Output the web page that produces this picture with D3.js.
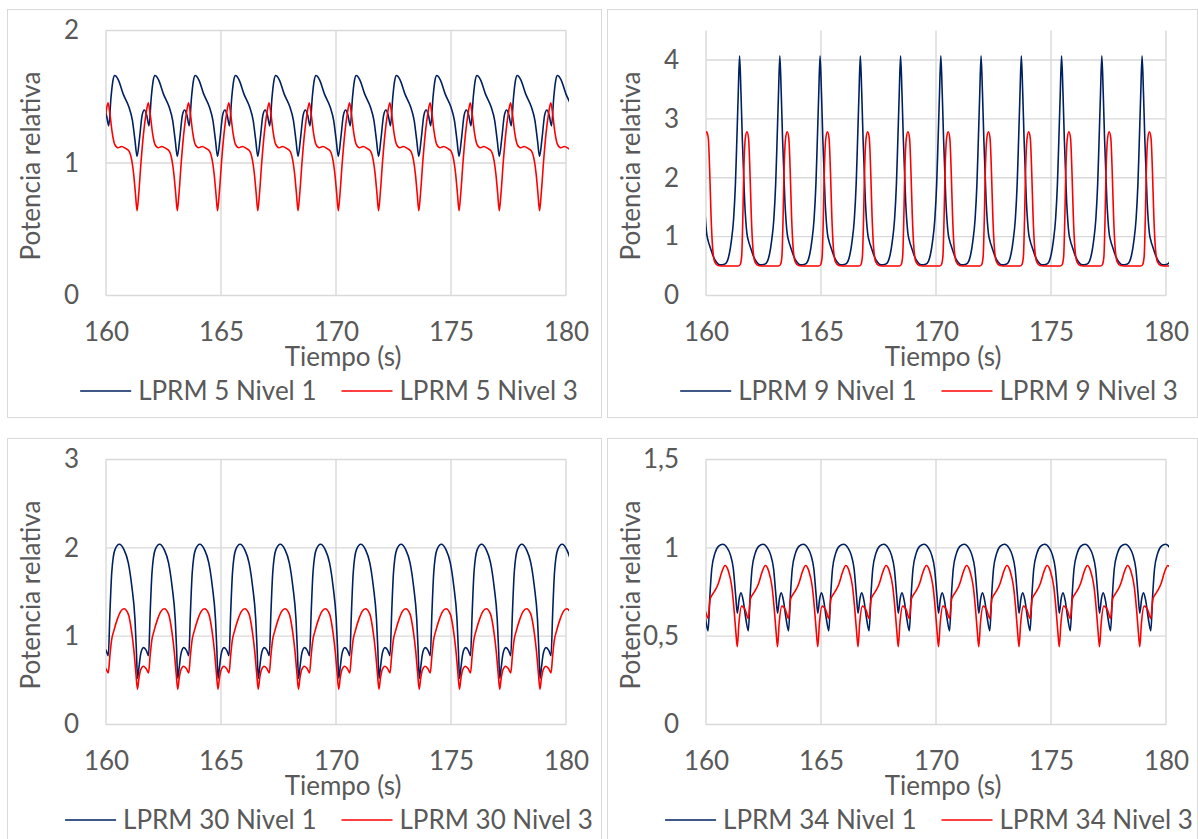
<!DOCTYPE html>
<html>
<head>
<meta charset="utf-8">
<script src="https://cdn.jsdelivr.net/npm/d3@7"></script>
<style>
    body { margin: 0; background: #ffffff; }
    text { font-family: Lato, "Open Sans", sans-serif; fill: #595959; }
</style>
</head>
<body>
<script>
// instantes de cada minimo de LPRM 5 Nivel 1 (inicio de cada ciclo, s)
var ciclos = [157.85, 159.6, 161.35, 163.1, 164.85, 166.6, 168.35, 170.1, 171.85, 173.6, 175.35, 177.1, 178.85, 180.6];

var ticksX = [160, 165, 170, 175, 180];

// forma de un ciclo: [desfase desde el inicio del ciclo (s), potencia relativa]
var lprm5N1 = [[0.00, 1.05], [0.11, 1.19], [0.22, 1.36], [0.32, 1.40], [0.42, 1.36], [0.52, 1.28], [0.62, 1.50],
    [0.70, 1.62], [0.78, 1.66], [0.93, 1.63], [1.15, 1.52], [1.40, 1.42], [1.55, 1.32], [1.66, 1.17]];
var lprm5N3 = [[0.00, 0.64], [0.07, 0.76], [0.17, 1.00], [0.28, 1.22], [0.39, 1.37], [0.49, 1.455], [0.57, 1.37],
    [0.67, 1.23], [0.78, 1.14], [0.92, 1.115], [1.08, 1.125], [1.25, 1.11], [1.40, 1.09], [1.52, 1.02], [1.60, 0.92], [1.68, 0.77]];

var lprm9N1 = [[0.05, 3.40], [0.11, 4.07], [0.17, 3.45], [0.23, 2.65], [0.33, 1.60], [0.43, 1.05], [0.50, 0.92],
    [0.58, 0.82], [0.70, 0.68], [0.85, 0.57], [1.01, 0.52], [1.20, 0.53], [1.32, 0.58], [1.41, 0.70], [1.50, 0.92],
    [1.60, 1.30], [1.68, 1.90], [1.73, 2.50]];
var lprm9N3 = [[0.05, 0.50], [0.13, 0.52], [0.20, 0.66], [0.25, 1.30], [0.29, 2.05], [0.36, 2.67], [0.43, 2.78],
    [0.50, 2.67], [0.56, 2.12], [0.62, 1.35], [0.69, 0.80], [0.78, 0.57], [0.92, 0.51], [1.20, 0.50], [1.50, 0.50]];

var lprm30N1 = [[0.02, 0.52], [0.08, 0.64], [0.16, 0.80], [0.28, 0.87], [0.40, 0.84], [0.50, 0.78], [0.57, 1.26],
    [0.65, 1.72], [0.79, 1.98], [0.98, 2.04], [1.18, 1.98], [1.37, 1.83], [1.52, 1.57], [1.66, 1.19], [1.72, 0.85]];
var lprm30N3 = [[0.02, 0.40], [0.08, 0.52], [0.16, 0.62], [0.28, 0.66], [0.40, 0.63], [0.50, 0.585], [0.57, 0.78],
    [0.64, 0.95], [0.74, 1.06], [0.89, 1.19], [1.04, 1.28], [1.18, 1.31], [1.37, 1.25], [1.52, 1.04], [1.62, 0.82], [1.70, 0.58]];

var lprm34N1 = [[0.01, 0.63], [0.09, 0.71], [0.17, 0.745], [0.27, 0.70], [0.38, 0.60], [0.49, 0.53], [0.57, 0.73],
    [0.65, 0.88], [0.79, 0.97], [0.95, 1.01], [1.13, 1.02], [1.32, 1.00], [1.46, 0.96], [1.59, 0.88], [1.69, 0.73]];
var lprm34N3 = [[0.01, 0.44], [0.08, 0.57], [0.20, 0.67], [0.35, 0.65], [0.49, 0.60], [0.58, 0.71], [0.70, 0.74],
    [0.80, 0.76], [0.94, 0.80], [1.08, 0.86], [1.23, 0.90], [1.37, 0.87], [1.52, 0.78], [1.62, 0.65], [1.70, 0.52]];

var nombres = [
    ["LPRM 5 Nivel 1", "LPRM 5 Nivel 3"],
    ["LPRM 9 Nivel 1", "LPRM 9 Nivel 3"],
    ["LPRM 30 Nivel 1", "LPRM 30 Nivel 3"],
    ["LPRM 34 Nivel 1", "LPRM 34 Nivel 3"]
];
var formas = [[lprm5N1, lprm5N3], [lprm9N1, lprm9N3], [lprm30N1, lprm30N3], [lprm34N1, lprm34N3]];
var maximosY = [2, 4.5, 3, 1.5];
var ticksY = [[0, 1, 2], [0, 1, 2, 3, 4], [0, 1, 2, 3], [0, 0.5, 1, 1.5]];

// layout
var width = 1198, height = 839;
var origenes = [[7.5, 9.5], [607.5, 9.5], [7.5, 438.5], [607.5, 438.5]];
var anchosPanel = [594, 590, 594, 590];
var colores = ["#002060", "#ff0000"];
var fontSize = 26;

function fmt(v) { return String(v).replace(".", ","); }

function serie(forma) {
    var pts = [];
    ciclos.forEach(function (c) {
        forma.forEach(function (p) { pts.push([c + p[0], p[1]]); });
    });
    return pts;
}

var svg = d3.select("body").append("svg")
    .attr("width", width)
    .attr("height", height);

formas.forEach(function (par, i) {
    var ox = origenes[i][0], oy = origenes[i][1];
    var left = ox + 98.5, top = oy + 21, w = 460, h = 265;

    var g = svg.append("g");

    g.append("rect")
        .attr("x", ox).attr("y", oy)
        .attr("width", anchosPanel[i]).attr("height", 408)
        .attr("fill", "#fff")
        .attr("stroke", "#d9d9d9")
        .attr("stroke-width", 1);

    var x = d3.scaleLinear().domain([160, 180]).range([left, left + w]);
    var y = d3.scaleLinear().domain([0, maximosY[i]]).range([top + h, top]);

    // gridlines
    g.append("g").selectAll("line").data(ticksY[i]).enter().append("line")
        .attr("x1", left).attr("x2", left + w)
        .attr("y1", function (d) { return y(d); })
        .attr("y2", function (d) { return y(d); })
        .attr("stroke", "#d9d9d9").attr("stroke-width", 1.4);
    g.append("g").selectAll("line").data(ticksX).enter().append("line")
        .attr("x1", function (d) { return x(d); })
        .attr("x2", function (d) { return x(d); })
        .attr("y1", top).attr("y2", top + h)
        .attr("stroke", "#d9d9d9").attr("stroke-width", 1.4);

    // axes (labels only)
    var ejeY = g.append("g")
        .attr("transform", "translate(" + left + ",0)")
        .call(d3.axisLeft(y).tickValues(ticksY[i]).tickSize(0).tickPadding(27).tickFormat(fmt));
    var ejeX = g.append("g")
        .attr("transform", "translate(0," + (top + h) + ")")
        .call(d3.axisBottom(x).tickValues(ticksX).tickSize(0).tickPadding(27));
    [ejeY, ejeX].forEach(function (e) {
        e.select(".domain").remove();
        e.selectAll("text")
            .attr("font-family", null)
            .attr("fill", null)
            .style("font-size", fontSize + "px");
    });

    g.append("text")
        .attr("x", left + w / 2 + 7)
        .attr("y", top + h + 70)
        .attr("text-anchor", "middle")
        .style("font-size", fontSize + "px")
        .text("Tiempo (s)");

    g.append("text")
        .attr("transform", "translate(" + (ox + 32.5) + "," + (top + h / 2 + 3) + ") rotate(-90)")
        .attr("text-anchor", "middle")
        .style("font-size", fontSize + "px")
        .text("Potencia relativa");

    // lines
    var clipId = "clip" + i;
    g.append("clipPath").attr("id", clipId)
        .append("rect")
        .attr("x", left).attr("y", top - 3)
        .attr("width", w + 3).attr("height", h + 6);

    var linea = d3.line()
        .x(function (d) { return x(d[0]); })
        .y(function (d) { return y(d[1]); })
        .curve(d3.curveMonotoneX);

    par.forEach(function (forma, k) {
        g.append("path")
            .datum(serie(forma))
            .attr("clip-path", "url(#" + clipId + ")")
            .attr("fill", "none")
            .attr("stroke", colores[k])
            .attr("stroke-width", 1.6)
            .attr("d", linea);
    });

    // legend
    var ley = g.append("g");
    var cx = 0;
    nombres[i].forEach(function (nombre, k) {
        var it = ley.append("g").attr("transform", "translate(" + cx + ",0)");
        it.append("line")
            .attr("x1", 0).attr("x2", 51)
            .attr("y1", 0).attr("y2", 0)
            .attr("stroke", colores[k]).attr("stroke-width", 1.6);
        var t = it.append("text")
            .attr("x", 58).attr("y", 9)
            .style("font-size", fontSize + "px")
            .text(nombre);
        cx += 58 + t.node().getComputedTextLength() + 25;
    });
    var total = cx - 25;
    ley.attr("transform", "translate(" + (ox + 321.5 - total / 2) + "," + (oy + 381.5) + ")");
});
</script>
</body>
</html>
